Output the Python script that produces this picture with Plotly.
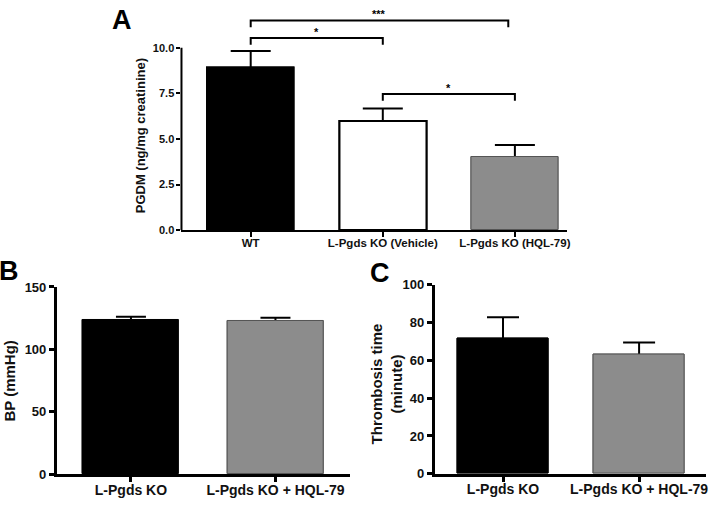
import plotly.graph_objects as go

# ---------------- data ----------------
a_categories = ["WT", "L-Pgds KO (Vehicle)", "L-Pgds KO (HQL-79)"]
a_values = [8.9, 5.98, 4.02]
a_errors = [0.92, 0.69, 0.65]
a_colors = ["#000000", "#ffffff", "#8c8c8c"]
a_ticks = [0, 2.5, 5, 7.5, 10]
a_ticktext = ["0.0", "2.5", "5.0", "7.5", "10.0"]

# significance brackets (category index from, to), level, label
br_from = [0, 0, 1]
br_to = [1.95, 1.0, 2.0]
br_level = [11.5, 10.53, 7.47]
br_label = ["***", "*", "*"]

b_categories = ["L-Pgds KO", "L-Pgds KO + HQL-79"]
b_values = [123.6, 122.6]
b_errors = [2.5, 2.8]
b_ticks = [0, 50, 100, 150]

c_categories = ["L-Pgds KO", "L-Pgds KO + HQL-79"]
c_values = [71.5, 63.0]
c_errors = [11.2, 6.4]
c_ticks = [0, 20, 40, 60, 80, 100]

bc_colors = ["#000000", "#8c8c8c"]

FONT = "Liberation Sans, Arial, sans-serif"
W, H = 714, 509

fig = go.Figure()


def add_bars(xa, ya, cats, vals, errs, colors, line_colors, line_widths, width, cap):
    # bottom trace carries the error bars, top trace covers their lower half
    fig.add_trace(go.Bar(
        x=list(range(len(cats))), y=vals, width=width,
        marker=dict(color=colors, line=dict(color=line_colors, width=line_widths)),
        error_y=dict(type="data", array=errs, symmetric=True, color="#000000",
                     thickness=2, width=cap),
        xaxis=xa, yaxis=ya, showlegend=False, hoverinfo="skip"))
    fig.add_trace(go.Bar(
        x=list(range(len(cats))), y=vals, width=width,
        marker=dict(color=colors, line=dict(color=line_colors, width=line_widths)),
        xaxis=xa, yaxis=ya, showlegend=False, hoverinfo="skip"))


add_bars("x", "y", a_categories, a_values, a_errors, a_colors,
         ["#000000", "#000000", "#555555"], [1.5, 2, 1], 0.66, 20)
add_bars("x2", "y2", b_categories, b_values, b_errors, bc_colors,
         ["#000000", "#555555"], [1, 1], 0.665, 15)
add_bars("x3", "y3", c_categories, c_values, c_errors, bc_colors,
         ["#000000", "#555555"], [1, 1], 0.665, 16)

# ---- panel A geometry ----
a_y0_px, a_y10_px = 230.0, 42.0
a_px_per_unit = (a_y0_px - a_y10_px) / 10.0
a_top = a_y0_px / a_px_per_unit

axis_common = dict(showgrid=False, zeroline=False, ticks="outside",
                   tickcolor="#000000", linecolor="#000000", fixedrange=True)

fig.update_layout(
    width=W, height=H, margin=dict(l=0, r=0, t=0, b=0),
    paper_bgcolor="white", plot_bgcolor="white",
    barmode="overlay", bargap=0,
    font=dict(family=FONT, color="#111111"),
    xaxis=dict(domain=[182.5 / W, 570 / W], range=[-0.524, 2.393],
               tickmode="array", tickvals=list(range(3)), ticktext=a_categories,
               showline=True, linewidth=2, ticklen=5, tickwidth=2,
               ticklabelstandoff=-4,
               tickfont=dict(size=11.5, family=FONT, weight="bold"),
               anchor="y", **axis_common),
    yaxis=dict(domain=[(H - a_y0_px) / H, 1.0], range=[0, a_top],
               tickmode="array", tickvals=a_ticks, ticktext=a_ticktext,
               showline=False, ticklen=4, tickwidth=2,
               tickfont=dict(size=11, family=FONT, weight="bold"),
               anchor="x", **axis_common),
    xaxis2=dict(domain=[57 / W, 351.7 / W], range=[-0.514, 1.514],
                tickmode="array", tickvals=list(range(2)), ticktext=b_categories,
                showline=True, linewidth=2.5, ticklen=5, tickwidth=2.5,
                ticklabelstandoff=-4,
                tickfont=dict(size=14, family=FONT, weight="bold"),
                anchor="y2", **axis_common),
    yaxis2=dict(domain=[(H - 481.5) / H, (H - 288.5) / H], range=[0, 150],
                tickmode="array", tickvals=b_ticks,
                showline=True, linewidth=2.5, ticklen=5, tickwidth=2.5,
                tickfont=dict(size=13, family=FONT, weight="bold"),
                anchor="x2", **axis_common),
    xaxis3=dict(domain=[437 / W, 710.3 / W], range=[-0.503, 1.494],
                tickmode="array", tickvals=list(range(2)), ticktext=c_categories,
                showline=True, linewidth=2.5, ticklen=5, tickwidth=2.5,
                ticklabelstandoff=-4,
                tickfont=dict(size=14, family=FONT, weight="bold"),
                anchor="y3", **axis_common),
    yaxis3=dict(domain=[(H - 481) / H, (H - 286) / H], range=[0, 100],
                tickmode="array", tickvals=c_ticks,
                showline=True, linewidth=2.5, ticklen=5, tickwidth=2.5,
                tickfont=dict(size=13, family=FONT, weight="bold"),
                anchor="x3", **axis_common),
)

shapes = []
# panel A y axis line (only up to the top tick)
shapes.append(dict(type="line", xref="x domain", yref="y", x0=0, x1=0,
                   y0=a_ticks[0], y1=a_ticks[-1], line=dict(color="#000000", width=2)))
annotations = []
drop = 0.37
for f, t, lv, lab in zip(br_from, br_to, br_level, br_label):
    shapes.append(dict(type="path", xref="x", yref="y",
                       path=f"M {f},{lv - drop} L {f},{lv} L {t},{lv} L {t},{lv - drop}",
                       line=dict(color="#000000", width=2)))
    annotations.append(dict(x=(f + t) / 2, y=lv, xref="x", yref="y", text=lab,
                            showarrow=False, yanchor="bottom", yshift=-2,
                            font=dict(size=11, family=FONT, color="#000000", weight="bold")))

# panel letters
for letter, px, py in [("A", 123, 13), ("B", 9, 272), ("C", 382, 274)]:
    annotations.append(dict(x=px / W, y=1 - py / H, xref="paper", yref="paper",
                            text=letter, showarrow=False, xanchor="center", yanchor="middle",
                            font=dict(size=27, family=FONT, color="#000000", weight="bold")))

# axis titles
annotations.append(dict(x=141 / W, y=1 - 133 / H, xref="paper", yref="paper",
                        xanchor="center", yanchor="middle",
                        text="PGDM (ng/mg creatinine)", textangle=-90, showarrow=False,
                        font=dict(size=13, family=FONT, color="#111111", weight="bold")))
annotations.append(dict(x=10 / W, y=1 - 385 / H, xref="paper", yref="paper",
                        xanchor="center", yanchor="middle",
                        text="BP (mmHg)", textangle=-90, showarrow=False,
                        font=dict(size=15, family=FONT, color="#111111", weight="bold")))
annotations.append(dict(x=389 / W, y=1 - 388 / H, xref="paper", yref="paper",
                        xanchor="center", yanchor="middle",
                        text="Thrombosis time<br>(minute)", textangle=-90, showarrow=False,
                        font=dict(size=15, family=FONT, color="#111111", weight="bold")))

fig.update_layout(shapes=shapes, annotations=annotations)

fig.write_html("out.html", config={"displayModeBar": False},
               post_script="document.body.style.margin='0px';")
